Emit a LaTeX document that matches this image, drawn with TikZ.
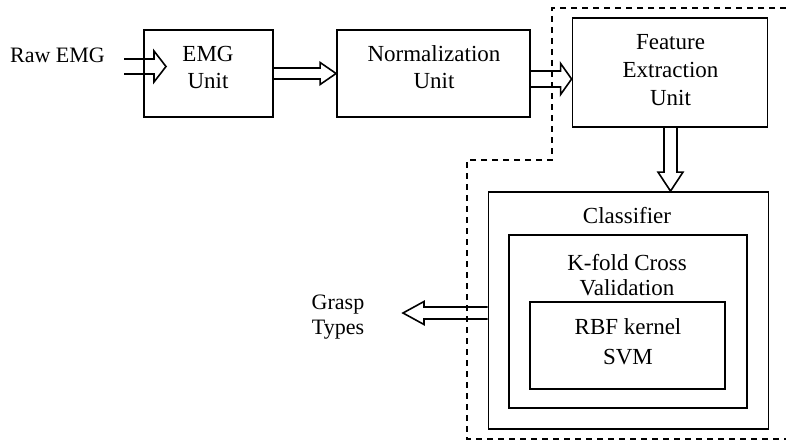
\documentclass[tikz,border=0pt]{standalone}
\usepackage{fontspec}
\setmainfont{Liberation Serif}
\usetikzlibrary{calc}

% hollow double-line arrow: name, tail, tip, shaft half-width, head half-width, head length
\newcommand{\hollowarrow}[6]{%
  \coordinate (#1-h) at ($(#3)!#6!(#2)$);
  \draw[hollow] ($(#2)!#4!90:(#3)$) -- ($(#1-h)!#4!-90:(#2)$)
    -- ($(#1-h)!#5!-90:(#2)$) -- (#3) -- ($(#1-h)!#5!90:(#2)$)
    -- ($(#1-h)!#4!90:(#2)$) -- ($(#2)!#4!-90:(#3)$);
}

\begin{document}
\begin{tikzpicture}[x=1pt, y=-1pt,
  every node/.style={font=\fontsize{23}{27}\selectfont, inner sep=0pt},
  blockbox/.style={draw, line width=1.8pt, rectangle},
  txt/.style={align=center},
  hollow/.style={line width=1.6pt, line join=miter},
  region/.style={line width=1.4pt, dash pattern=on 6pt off 5pt}]
\useasboundingbox (0,0) rectangle (786,444);
\fill[white] (0,0) rectangle (786,444);

% processing blocks
\node[blockbox, minimum width=129pt, minimum height=87pt] (emg) at (208.5,73.5) {};
\node[blockbox, minimum width=193pt, minimum height=87pt] (norm) at (433.5,73.5) {};
\node[blockbox, minimum width=195pt, minimum height=109pt] (feat) at (670,72.5) {};
\node[blockbox, minimum width=280pt, minimum height=237pt] (cls) at (628.5,310.5) {};
\node[blockbox, minimum width=238pt, minimum height=173pt] (kfold) at (628,321.5) {};
\node[blockbox, minimum width=195pt, minimum height=87pt] (rbf) at (627.5,345.5) {};

% block labels
\node[txt, font=\fontsize{22}{27}\selectfont] (rawlbl) at (57.5,55.5) {Raw EMG};
\node[txt] (emglbl) at (208,67.5) {EMG\\Unit};
\node[txt] (normlbl) at (434,66.7) {Normalization\\Unit};
\node[txt, font=\fontsize{23}{28}\selectfont] (featlbl) at (670.5,70.5) {Feature\\Extraction\\Unit};
\node[txt] (clslbl) at (627,215.5) {Classifier};
\node[txt, font=\fontsize{23}{25}\selectfont] (kfoldlbl) at (627,275) {K-fold Cross\\Validation};
\node[txt, font=\fontsize{23}{30}\selectfont] (rbflbl) at (628,342) {RBF kernel\\SVM};
\node[txt, font=\fontsize{22}{24.5}\selectfont] (grasp) at (338,317) {Grasp\\Types};

% dashed region around feature extraction and classification
\draw[region] (786,8) -- (552,8) -- (552,160) -- (467,160) -- (467,439) -- (786,439);

% connectors
\coordinate (rawin) at (124,66.5);
\coordinate (emgin) at (166,66.5);
\coordinate (graspout) at (403,313);
\hollowarrow{a1}{rawin}{emgin}{7.5pt}{15.5pt}{12pt}
\hollowarrow{a2}{emg.east}{norm.west}{5.5pt}{11pt}{16pt}
\hollowarrow{a3}{norm.east |- 0,79}{feat.west |- 0,79}{8pt}{15.5pt}{11pt}
\hollowarrow{a4}{feat.south -| 670.5,0}{cls.north -| 670.5,0}{6.5pt}{12.5pt}{19pt}
\hollowarrow{a5}{cls.west |- 0,313}{graspout}{6pt}{11.5pt}{21pt}
\end{tikzpicture}
\end{document}
